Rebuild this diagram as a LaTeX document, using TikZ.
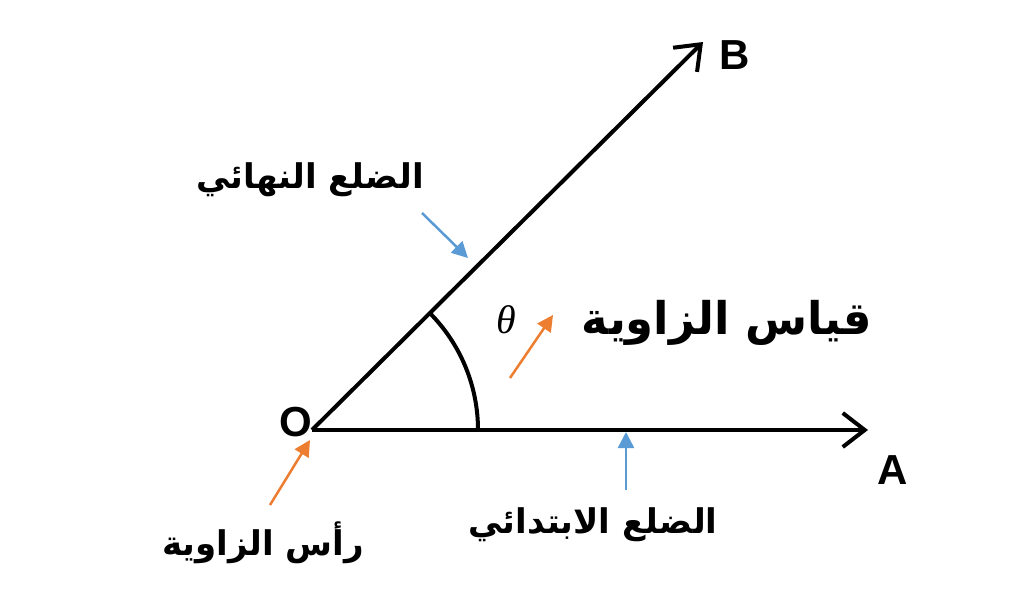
\documentclass[tikz,border=0pt]{standalone}
\usepackage{fontspec}
\setmainfont{Liberation Sans}
\newfontfamily\arabicfont[Script=Arabic]{DejaVu Sans}
\newfontfamily\thetafont{Liberation Serif}
\TeXXeTstate=1
\usetikzlibrary{arrows.meta}
\definecolor{lblue}{RGB}{91,155,213}
\definecolor{lorange}{RGB}{237,125,49}
\begin{document}
\begin{tikzpicture}[x=1pt,y=-1pt,
  ray/.style={line width=4pt, -{Straight Barb[length=22pt,width=34pt,line width=4pt]}},
  bluepointer/.style={draw=lblue, line width=2.5pt, -{Triangle[length=16pt,width=16pt,fill=lblue]}},
  orangepointer/.style={draw=lorange, line width=2.5pt, -{Triangle[length=16pt,width=16pt,fill=lorange]}},
  letter/.style={font=\fontsize{42}{46}\selectfont\bfseries, inner sep=0pt},
  arlabel/.style={font=\arabicfont\bfseries\fontsize{34}{40}\selectfont, inner sep=0pt},
  arbig/.style={font=\arabicfont\bfseries\fontsize{45}{52}\selectfont, inner sep=0pt}]
\useasboundingbox (0,0) rectangle (1024,605);
\coordinate (O) at (312,430);
\coordinate (A) at (868,430);
\coordinate (B) at (703,42);
\draw[ray] (O) -- (A);
\draw[ray] (O) -- (B);
\draw[line width=4pt] (478,430) arc[start angle=0, end angle=-44.8, radius=166];
\node[letter] (Blab) at (735,55) {B};
\node[letter] (Alab) at (893,470) {A};
\node[letter] (Olab) at (296,422) {O};
\node[font=\thetafont\itshape\fontsize{40}{44}\selectfont, inner sep=0pt] (theta) at (506,320) {θ};
\node[arlabel] (terminal) at (310,180) {\beginR الضلع النهائي\endR};
\node[arbig] (measure) at (727,323) {\beginR قياس الزاوية\endR};
\node[arlabel] (initial) at (593,525) {\beginR الضلع الابتدائي\endR};
\node[arlabel] (vertex) at (263,543) {\beginR رأس الزاوية\endR};
\coordinate (t1) at (422,213); \coordinate (t2) at (468,258);
\coordinate (i1) at (626,490); \coordinate (i2) at (626,432);
\coordinate (m1) at (510,378); \coordinate (m2) at (553,315);
\coordinate (v1) at (270,505); \coordinate (v2) at (310,440);
\draw[bluepointer] (t1) -- (t2);
\draw[bluepointer] (i1) -- (i2);
\draw[orangepointer] (m1) -- (m2);
\draw[orangepointer] (v1) -- (v2);
\end{tikzpicture}
\end{document}
